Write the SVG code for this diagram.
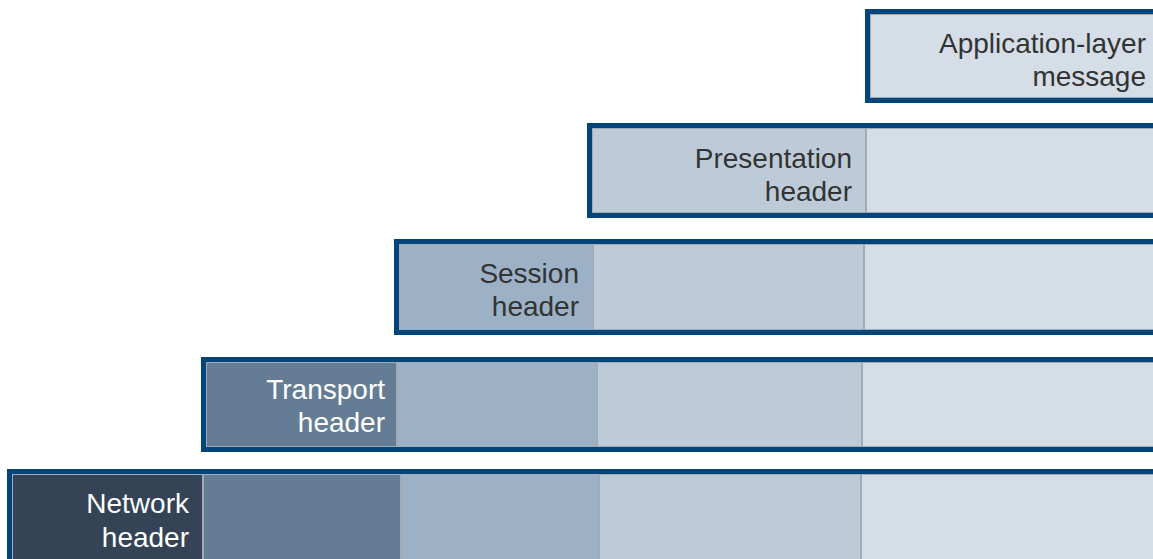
<svg xmlns="http://www.w3.org/2000/svg" width="1153" height="559" viewBox="0 0 1153 559">
<style>
.frame{fill:none;stroke:#02457a;stroke-width:5}
.c{stroke:#a2aab3;stroke-width:2}
.app{fill:#d5dde7}
.pre{fill:#bdcbd8}
.ses{fill:#9cb1c5}
.tra{fill:#647d94}
.net{fill:#344355}
text{font-family:"Liberation Sans",Arial,sans-serif;font-size:28px;text-anchor:end}
.dk{fill:#333333}
.wt{fill:#ffffff}
</style>
<rect width="1153" height="559" fill="#ffffff"/>
<g id="row-application">
<rect class="c app" x="870" y="14" width="290" height="84"/>
<rect class="frame" x="867.5" y="11.5" width="300" height="89"/>
<text class="dk" x="1146" y="53">Application-layer</text>
<text class="dk" x="1146" y="86">message</text>
</g>
<g id="row-presentation">
<rect class="c pre" x="592" y="128" width="274" height="85"/>
<rect class="c app" x="866" y="128" width="294" height="85"/>
<rect class="frame" x="589.5" y="125.5" width="580" height="90"/>
<text class="dk" x="852" y="168">Presentation</text>
<text class="dk" x="852" y="201">header</text>
</g>
<g id="row-session">
<rect class="c ses" x="399" y="244" width="194" height="86"/>
<rect class="c pre" x="593" y="244" width="271" height="86"/>
<rect class="c app" x="864" y="244" width="296" height="86"/>
<rect class="frame" x="396.5" y="241.5" width="780" height="91"/>
<text class="dk" x="579" y="283">Session</text>
<text class="dk" x="579" y="316">header</text>
</g>
<g id="row-transport">
<rect class="c tra" x="206" y="362" width="191" height="85"/>
<rect class="c ses" x="397" y="362" width="200" height="85"/>
<rect class="c pre" x="597" y="362" width="265" height="85"/>
<rect class="c app" x="862" y="362" width="298" height="85"/>
<rect class="frame" x="203.5" y="359.5" width="980" height="90"/>
<text class="wt" x="385" y="399">Transport</text>
<text class="wt" x="385" y="432">header</text>
</g>
<g id="row-network">
<rect class="c net" x="12" y="474" width="191" height="100"/>
<rect class="c tra" x="203" y="474" width="198" height="100"/>
<rect class="c ses" x="401" y="474" width="198" height="100"/>
<rect class="c pre" x="599" y="474" width="262" height="100"/>
<rect class="c app" x="861" y="474" width="299" height="100"/>
<rect class="frame" x="9.5" y="471.5" width="1180" height="110"/>
<text class="wt" x="189" y="513">Network</text>
<text class="wt" x="189" y="547">header</text>
</g>
<g id="connectors"></g>
</svg>
